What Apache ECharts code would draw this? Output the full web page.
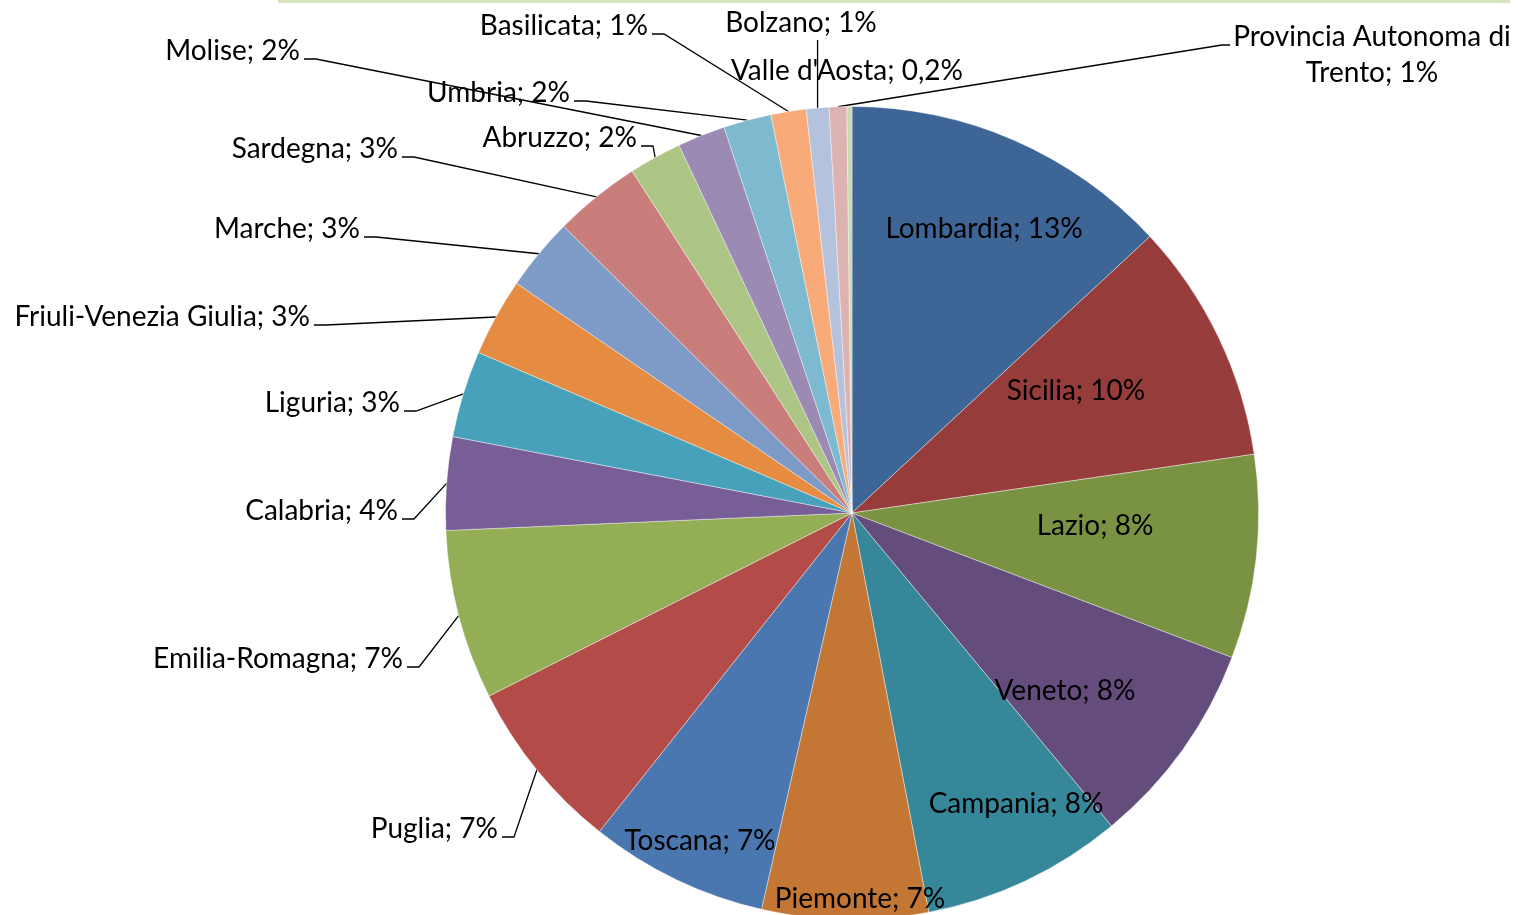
<!DOCTYPE html>
<html><head><meta charset="utf-8">
<script src="https://cdn.jsdelivr.net/npm/echarts@6/dist/echarts.min.js"></script>
<style>html,body{margin:0;padding:0;background:#fff}#c{width:1518px;height:915px}</style>
</head><body><div id="c"></div>
<script>
// ---- data ----
const regions = ['Lombardia','Sicilia','Lazio','Veneto','Campania','Piemonte','Toscana','Puglia',
  'Emilia-Romagna','Calabria','Liguria','Friuli-Venezia Giulia','Marche','Sardegna','Abruzzo',
  'Molise','Umbria','Basilicata','Bolzano','Provincia Autonoma di Trento',"Valle d'Aosta"];
const values = [13.1, 9.6, 8.1, 8.2, 8.0, 6.6, 7.1, 6.9, 6.75, 3.7, 3.45, 3.1, 2.9, 3.45, 2.1,
  1.9, 1.9, 1.4, 0.9, 0.7, 0.2];
const pctLabels = ['13%','10%','8%','8%','8%','7%','7%','7%','7%','4%','3%','3%','3%','3%','2%',
  '2%','2%','1%','1%','1%','0,2%'];

// ---- styles / layout ----
const colors = ['#3D6595','#963C3B','#7A9343','#644D7D','#37879A','#C47635','#4A77AF','#B34B48',
  '#93AE55','#785E96','#47A1BA','#E68C42','#7E9BC8','#C97E7C','#AEC685','#9B8AB4','#7DB9CF',
  '#F8AB78','#B4C2DD','#DDB3B2','#C9D9B0'];
const place = [
  {kind:'inside', x:984,  y:229},
  {kind:'inside', x:1076, y:391},
  {kind:'inside', x:1095, y:526},
  {kind:'inside', x:1065, y:691},
  {kind:'inside', x:1016, y:804},
  {kind:'inside', x:860,  y:899},
  {kind:'inside', x:700,  y:841},
  {kind:'left', x:498, y:829},
  {kind:'left', x:403, y:659},
  {kind:'left', x:398, y:511},
  {kind:'left', x:400, y:403},
  {kind:'left', x:310, y:317},
  {kind:'left', x:360, y:229},
  {kind:'left', x:398, y:149},
  {kind:'left', x:637, y:138},
  {kind:'left', x:300, y:51},
  {kind:'left', x:570, y:93},
  {kind:'left', x:648, y:26},
  {kind:'vert', x:801, y:23, lineTop:40},
  {kind:'trento', x:1372, y:55, lx:1222, ly:45},
  {kind:'none', x:847, y:71}
];
const FONT = 'Lato, "Open Sans", sans-serif';
const FS = 28;

const data = regions.map((n, i) => {
  const k = place[i].kind;
  const outside = k !== 'inside' && k !== 'none';
  return {
    name: n, value: values[i],
    itemStyle: {color: colors[i]},
    label: {position: k === 'inside' ? 'inside' : 'outside'},
    labelLine: {show: outside}
  };
});

const chart = echarts.init(document.getElementById('c'));
chart.setOption({
  animation: false,
  backgroundColor: '#fff',
  graphic: [{type:'rect', shape:{x:278, y:0, width:1232, height:3}, style:{fill:'#D7E4BD'}}],
  series: [{
    type: 'pie',
    center: [852, 513],
    radius: 406.5,
    startAngle: 90,
    clockwise: true,
    avoidLabelOverlap: false,
    itemStyle: {borderColor: '#fff', borderWidth: 0.4},
    label: {
      show: true,
      color: '#000',
      fontFamily: FONT,
      fontSize: FS,
      lineHeight: 36,
      formatter: p => {
        const nm = p.name.replace('Autonoma di ', 'Autonoma di\n');
        return nm + '; ' + pctLabels[p.dataIndex];
      }
    },
    labelLine: {show: true, length: 10, length2: 10, smooth: false,
      lineStyle: {color: '#000', width: 1.3}},
    emphasis: {disabled: true},
    labelLayout: function (p) {
      const pl = place[p.dataIndex];
      const res = {x: pl.x, y: pl.y, verticalAlign: 'middle', align: 'center'};
      const pts = p.labelLinePoints;
      if (pl.kind === 'left') {
        res.align = 'right';
        if (pts) res.labelLinePoints = [pts[0], [pl.x + 16, pl.y + 8], [pl.x + 4, pl.y + 8]];
      } else if (pl.kind === 'vert') {
        if (pts) res.labelLinePoints = [pts[0], [pts[0][0], pl.lineTop]];
      } else if (pl.kind === 'trento') {
        if (pts) res.labelLinePoints = [pts[0], [pl.lx, pl.ly], [pl.lx + 8, pl.ly]];
      }
      return res;
    },
    data: data
  }]
});
</script>
</body></html>
